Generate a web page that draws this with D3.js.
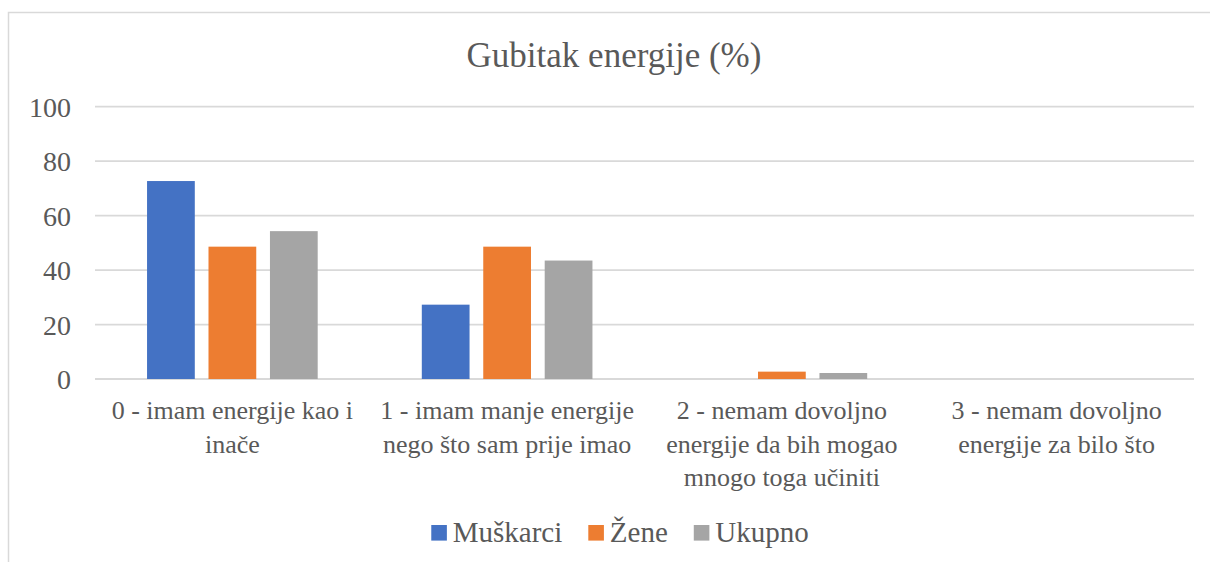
<!DOCTYPE html>
<html>
<head>
<meta charset="utf-8">
<script src="https://cdn.jsdelivr.net/npm/d3@7"></script>
<style>
  html, body { margin: 0; padding: 0; background: #fff; }
  svg { display: block; }
</style>
</head>
<body>
<svg id="chart" width="1210" height="562"></svg>
<script>
const title = "Gubitak energije (%)";
const categories = [
  "0 - imam energije kao i inače",
  "1 - imam manje energije nego što sam prije imao",
  "2 - nemam dovoljno energije da bih mogao mnogo toga učiniti",
  "3 - nemam dovoljno energije za bilo što"
];
const seriesNames = ["Muškarci", "Žene", "Ukupno"];
const muskarci = [72.7, 27.3, 0, 0];
const zene = [48.6, 48.6, 2.7, 0];
const ukupno = [54.3, 43.5, 2.2, 0];
const yTicks = [0, 20, 40, 60, 80, 100];
const colors = ["#4472C4", "#ED7D31", "#A5A5A5"];

const seriesValues = [muskarci, zene, ukupno];

const svg = d3.select("#chart");
const FONT = '"Liberation Serif", serif';
const TXT = "#595959";

// chart frame
svg.append("rect")
  .attr("x", 8.5).attr("y", 12.5)
  .attr("width", 1230).attr("height", 600)
  .attr("fill", "#fff").attr("stroke", "#D9D9D9").attr("stroke-width", 1.5);

const plot = { left: 95, right: 1194, top: 106.7, bottom: 379 };

const x0 = d3.scaleBand().domain(categories).range([plot.left, plot.right]).paddingInner(0).paddingOuter(0);
const x1 = d3.scaleBand().domain(seriesNames).range([0, x0.bandwidth()]).paddingInner(0.223).paddingOuter(0.847);
const y = d3.scaleLinear().domain([0, 100]).range([plot.bottom, plot.top]);

// gridlines
svg.append("g").selectAll("line").data(yTicks).join("line")
  .attr("x1", plot.left).attr("x2", plot.right)
  .attr("y1", d => y(d)).attr("y2", d => y(d))
  .attr("stroke", "#D9D9D9").attr("stroke-width", 1.8);

// y axis labels
const yAxis = d3.axisLeft(y).tickValues(yTicks).tickSize(0).tickPadding(24);
const gy = svg.append("g").attr("transform", `translate(${plot.left},0)`).call(yAxis);
gy.attr("font-family", null).attr("font-size", null);
gy.select(".domain").remove();
gy.selectAll("text")
  .style("font-family", FONT)
  .style("font-size", "28px")
  .attr("fill", TXT)
  .attr("dy", "0.34em");

// bars
const groups = svg.append("g").selectAll("g").data(categories).join("g")
  .attr("transform", d => `translate(${x0(d)},0)`);
groups.selectAll("rect")
  .data((c, ci) => seriesNames.map((s, si) => ({ s, si, v: seriesValues[si][ci] })))
  .join("rect")
  .attr("x", d => x1(d.s))
  .attr("width", x1.bandwidth())
  .attr("y", d => y(d.v))
  .attr("height", d => y(0) - y(d.v))
  .attr("fill", d => colors[d.si]);

// x category labels, wrapped
const maxW = x0.step() - 6;
const lineH = 33.5;
categories.forEach(c => {
  const cx = x0(c) + x0.bandwidth() / 2;
  const t = svg.append("text")
    .attr("text-anchor", "middle")
    .attr("fill", TXT)
    .style("font-family", FONT)
    .style("font-size", "26px")
    .attr("x", cx).attr("y", 419);
  const words = c.split(" ");
  let lines = [];
  let cur = [];
  const probe = svg.append("text").style("font-family", FONT).style("font-size", "26px");
  words.forEach(w => {
    const test = cur.concat([w]).join(" ");
    probe.text(test);
    if (probe.node().getComputedTextLength() > maxW && cur.length) {
      lines.push(cur.join(" "));
      cur = [w];
    } else {
      cur.push(w);
    }
  });
  if (cur.length) lines.push(cur.join(" "));
  probe.remove();
  lines.forEach((l, i) => {
    t.append("tspan").attr("x", cx).attr("y", 419 + i * lineH).text(l);
  });
});

// title
svg.append("text")
  .attr("x", 614).attr("y", 67)
  .attr("text-anchor", "middle")
  .attr("fill", TXT)
  .style("font-family", FONT)
  .style("font-size", "35px")
  .text(title);

// legend
const legend = svg.append("g");
let cursor = 0;
seriesNames.forEach((s, i) => {
  const g = legend.append("g");
  g.append("rect").attr("x", cursor).attr("y", 525).attr("width", 15.6).attr("height", 15.6).attr("fill", colors[i]);
  const tx = g.append("text").attr("x", cursor + 21.5).attr("y", 542)
    .attr("fill", TXT)
    .style("font-family", FONT).style("font-size", "29px").text(s);
  const w = tx.node().getComputedTextLength();
  cursor += 21.5 + w + 26;
});
const totalW = cursor - 26;
legend.attr("transform", `translate(${620 - totalW / 2},0)`);
</script>
</body>
</html>
